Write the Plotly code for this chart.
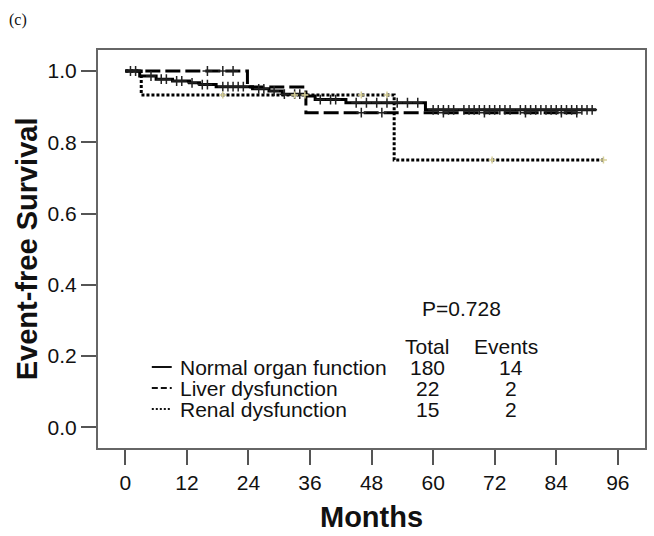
import numpy as np
import plotly.graph_objects as go

# ---- data ----
normal_t = [0, 2.8, 6, 9.2, 12.5, 14.5, 17.7, 24.8, 28, 30.6, 35.2, 37, 43, 58.5, 91.8]
normal_s = [1.0, 0.986, 0.977, 0.972, 0.967, 0.962, 0.956, 0.950, 0.944, 0.935, 0.930, 0.920, 0.911, 0.891, 0.891]
liver_t = [0, 23.8, 35.2, 88]
liver_s = [1.0, 0.955, 0.883, 0.883]
renal_t = [0, 3.1, 52.4, 93.2]
renal_s = [1.0, 0.933, 0.750, 0.750]

normal_cens = [1, 2, 5, 7, 8, 10, 11, 13, 15, 16, 19, 20, 21, 22, 23, 26, 27, 29, 31, 33, 34,
               38, 40, 41, 45, 47, 49, 51, 53, 55, 57, 60, 61, 62, 63, 64, 66, 67, 68, 69, 70,
               71, 72, 73, 74, 75, 77, 78, 79, 80, 81, 82, 83, 84, 85, 86, 87, 88, 89, 90, 91]
liver_cens = [16, 19, 21, 46, 50, 62, 70, 78, 85, 88]
renal_cens = [19, 33, 35, 46, 51, 71.5, 93.2]

groups = ["Normal organ function", "Liver dysfunction", "Renal dysfunction"]
totals = [180, 22, 15]
events = [14, 2, 2]
p_text = "P=0.728"
x_ticks = [0, 12, 24, 36, 48, 60, 72, 84, 96]
y_ticks = [0.0, 0.2, 0.4, 0.6, 0.8, 1.0]


def step_val(t, s, c):
    idx = np.searchsorted(np.array(t), np.array(c), side="right") - 1
    return list(np.array(s)[idx])


FONT = "Liberation Sans, Arial, sans-serif"
fig = go.Figure()

fig.add_trace(go.Scatter(x=renal_t, y=renal_s, mode="lines", line_shape="hv",
                         line=dict(color="black", width=3, dash="3px,2px"), showlegend=False))
fig.add_trace(go.Scatter(x=liver_t, y=liver_s, mode="lines", line_shape="hv",
                         line=dict(color="black", width=3, dash="15px,5px"), showlegend=False))
fig.add_trace(go.Scatter(x=normal_t, y=normal_s, mode="lines", line_shape="hv",
                         line=dict(color="black", width=3), showlegend=False))

fig.add_trace(go.Scatter(x=normal_cens, y=step_val(normal_t, normal_s, normal_cens), mode="markers",
                         marker=dict(symbol="cross-thin", size=7, line=dict(color="#222", width=1.5)),
                         showlegend=False))
fig.add_trace(go.Scatter(x=liver_cens, y=step_val(liver_t, liver_s, liver_cens), mode="markers",
                         marker=dict(symbol="cross-thin", size=7, line=dict(color="#222", width=1.5)),
                         showlegend=False))
fig.add_trace(go.Scatter(x=renal_cens, y=step_val(renal_t, renal_s, renal_cens), mode="markers",
                         marker=dict(symbol="cross-thin", size=5, line=dict(color="#d6cf98", width=1.5)),
                         showlegend=False))

L, R, T, B = 98, 647, 50, 448
W, H = R - L, B - T


def px(x):
    return (x - L) / W


def py(y):
    return (B - y) / H


ann = []
tf = dict(family=FONT, size=21, color="#111")
ann.append(dict(x=px(463), y=py(308), text=p_text, showarrow=False, xref="paper", yref="paper",
                xanchor="center", yanchor="middle", font=tf))
ann.append(dict(x=px(428), y=py(346), text="Total", showarrow=False, xref="paper", yref="paper",
                xanchor="center", yanchor="middle", font=tf))
ann.append(dict(x=px(507), y=py(346), text="Events", showarrow=False, xref="paper", yref="paper",
                xanchor="center", yanchor="middle", font=tf))
row_y = [367, 388, 409]
dashes = ["solid", "6px,3px", "2px,2px"]
shapes = []
for g, tot, ev, ry, d in zip(groups, totals, events, row_y, dashes):
    ann.append(dict(x=px(178), y=py(ry), text=g, showarrow=False, xref="paper", yref="paper",
                    xanchor="left", yanchor="middle", font=tf))
    ann.append(dict(x=px(429), y=py(ry), text=str(tot), showarrow=False, xref="paper", yref="paper",
                    xanchor="center", yanchor="middle", font=tf))
    ann.append(dict(x=px(513), y=py(ry), text=str(ev), showarrow=False, xref="paper", yref="paper",
                    xanchor="center", yanchor="middle", font=tf))
    shapes.append(dict(type="line", xref="paper", yref="paper", x0=px(152), x1=px(172),
                       y0=py(ry), y1=py(ry), line=dict(color="#111", width=2, dash=d)))

ann.append(dict(x=px(27), y=0.5, text="<b>Event-free Survival</b>", textangle=-90, showarrow=False,
                xref="paper", yref="paper", xanchor="center", yanchor="middle",
                font=dict(family=FONT, size=29, color="#111")))
ann.append(dict(x=px(373), y=py(517), text="<b>Months</b>", showarrow=False,
                xref="paper", yref="paper", xanchor="center", yanchor="middle",
                font=dict(family=FONT, size=29, color="#111")))
ann.append(dict(x=px(7), y=py(20), text="(c)", showarrow=False, xref="paper", yref="paper",
                xanchor="left", yanchor="middle",
                font=dict(family="Liberation Serif, Times New Roman, serif", size=16, color="#111")))

fig.update_layout(
    width=654, height=536,
    margin=dict(l=L, r=654 - R, t=T, b=536 - B),
    paper_bgcolor="white", plot_bgcolor="white",
    annotations=ann, shapes=shapes,
    xaxis=dict(range=[-5.33, 101.3], tickvals=x_ticks, ticks="outside", ticklen=15, tickwidth=2,
               tickcolor="#555", showline=True, linecolor="#666", linewidth=2, mirror=True,
               showgrid=False, zeroline=False, tickfont=dict(family=FONT, size=21, color="#111")),
    yaxis=dict(range=[-0.058, 1.059], tickvals=y_ticks, tickformat=".1f", ticks="outside", ticklen=15,
               tickwidth=2, tickcolor="#555", showline=True, linecolor="#666", linewidth=2, mirror=True,
               showgrid=False, zeroline=False, tickfont=dict(family=FONT, size=21, color="#111")),
)

fig.write_html("out.html", config={"displayModeBar": False},
               post_script="document.body.style.margin='0px';document.body.style.overflow='hidden';")
